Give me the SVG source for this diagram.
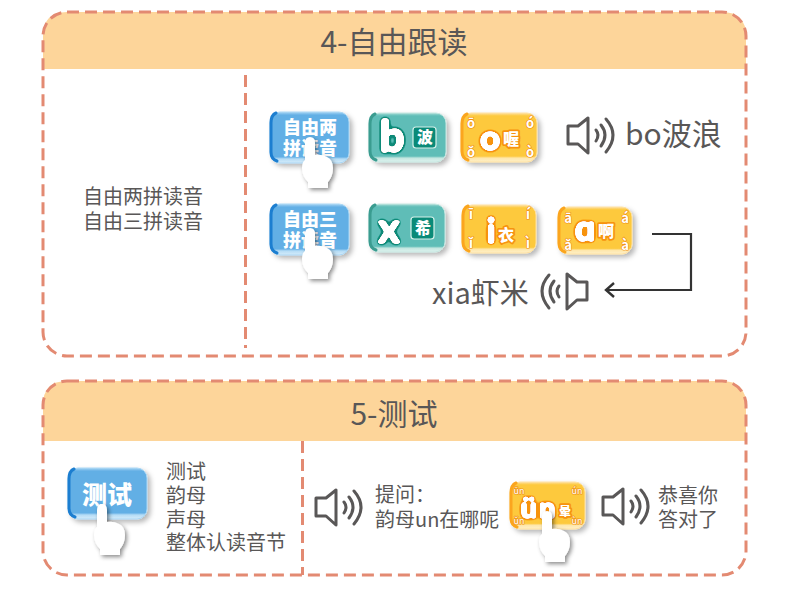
<svg xmlns="http://www.w3.org/2000/svg" width="790" height="592" viewBox="0 0 790 592">
<style>
text{font-family:"Noto Sans CJK SC","Noto Sans",sans-serif;fill:#595757}
.title{font-size:30px;text-anchor:middle}
.t20{font-size:20px}
.mid{text-anchor:middle}
.big{font-size:30px}
.frame{fill:none;stroke:#e38a72;stroke-width:3;stroke-dasharray:12 6}
.div{fill:none;stroke:#e38a72;stroke-width:3;stroke-dasharray:12 6}
.head{fill:#fdd59a}
.spk{fill:none;stroke:#595757;stroke-width:3;stroke-linejoin:round;stroke-linecap:round}
.blue{fill:url(#gb);stroke:#a9d6f4;stroke-width:1;filter:url(#sh)}
.blueedge{fill:none;stroke:#1c7ed0;stroke-width:3;stroke-linecap:round}
.green{fill:url(#gg);stroke:#c4e6e0;stroke-width:1;filter:url(#sh)}
.greenedge{fill:none;stroke:#3a9c90;stroke-width:3;stroke-linecap:round}
.yellow{fill:url(#gy);stroke:#fee0a0;stroke-width:1;filter:url(#sh)}
.yellowedge{fill:none;stroke:#fba51e;stroke-width:3;stroke-linecap:round}
text.bt{fill:#fff;font-weight:900;font-size:18px;text-anchor:middle}
text.gl{fill:#fff;font-family:Lato,"Noto Sans",sans-serif;font-weight:900;text-anchor:middle;filter:url(#tl)}
text.yl{fill:#fff;font-family:Lato,"Noto Sans",sans-serif;font-weight:900;text-anchor:middle;filter:url(#ol)}
text.yc{fill:#fff;stroke:#f7930e;stroke-width:3.5px;paint-order:stroke;font-weight:900;font-size:16px;text-anchor:middle;stroke-linejoin:round}
text.mk{fill:#fff;stroke:#f08c10;stroke-width:1.2px;paint-order:stroke;font-size:13px;font-weight:700;text-anchor:middle}
text.gc{fill:#fff;stroke:#0a8a78;stroke-width:2px;paint-order:stroke;font-weight:900;font-size:16px;text-anchor:middle}
.gbox{fill:#0a8a78;stroke:#d5f0ea;stroke-width:1.2}
</style>
<defs>
<linearGradient id="gb" x1="0" y1="0" x2="0" y2="1"><stop offset="0" stop-color="#a9d6f4"/><stop offset=".06" stop-color="#62afe5"/><stop offset=".88" stop-color="#62afe5"/><stop offset=".92" stop-color="#b5dcf6"/><stop offset="1" stop-color="#d5ecfa"/></linearGradient>
<linearGradient id="gg" x1="0" y1="0" x2="0" y2="1"><stop offset="0" stop-color="#a8dcd6"/><stop offset=".06" stop-color="#5fbdb7"/><stop offset=".88" stop-color="#5fbdb7"/><stop offset=".92" stop-color="#c4e6e0"/><stop offset="1" stop-color="#dff3ef"/></linearGradient>
<linearGradient id="gy" x1="0" y1="0" x2="0" y2="1"><stop offset="0" stop-color="#fee0a0"/><stop offset=".06" stop-color="#fdc93d"/><stop offset=".88" stop-color="#fdc93d"/><stop offset=".92" stop-color="#fee7ac"/><stop offset="1" stop-color="#fff0c8"/></linearGradient>
<filter id="sh" x="-20%" y="-20%" width="150%" height="150%"><feDropShadow dx="3" dy="3" stdDeviation="2.5" flood-color="#000" flood-opacity=".28"/></filter>
<filter id="hs" x="-30%" y="-20%" width="170%" height="150%"><feDropShadow dx="2" dy="2" stdDeviation="2" flood-color="#000" flood-opacity=".45"/></filter>
<filter id="tl" x="-30%" y="-30%" width="160%" height="160%"><feGaussianBlur in="SourceAlpha" stdDeviation="2.4"/><feComponentTransfer result="a"><feFuncA type="linear" slope="10" intercept="-.9"/></feComponentTransfer><feFlood flood-color="#0a8a78"/><feComposite in2="a" operator="in" result="o"/><feGaussianBlur in="SourceAlpha" stdDeviation="1"/><feComponentTransfer result="b"><feFuncA type="linear" slope="8" intercept="-1.6"/></feComponentTransfer><feFlood flood-color="#fff"/><feComposite in2="b" operator="in" result="w"/><feMerge><feMergeNode in="o"/><feMergeNode in="w"/></feMerge></filter>
<filter id="ol" x="-30%" y="-30%" width="160%" height="160%"><feGaussianBlur in="SourceAlpha" stdDeviation="2.4"/><feComponentTransfer result="a"><feFuncA type="linear" slope="10" intercept="-.9"/></feComponentTransfer><feFlood flood-color="#f7930e"/><feComposite in2="a" operator="in" result="o"/><feGaussianBlur in="SourceAlpha" stdDeviation="1"/><feComponentTransfer result="b"><feFuncA type="linear" slope="8" intercept="-1.6"/></feComponentTransfer><feFlood flood-color="#fff"/><feComposite in2="b" operator="in" result="w"/><feMerge><feMergeNode in="o"/><feMergeNode in="w"/></feMerge></filter>
<marker id="arr" markerUnits="userSpaceOnUse" markerWidth="14" markerHeight="18" refX="12" refY="9" orient="auto"><path d="M4,2 L12,9 L4,16" fill="none" stroke="#333" stroke-width="2.4"/></marker>
<symbol id="hand" overflow="visible" viewBox="0 0 1 1" width="1" height="1">
<path d="M-5,5 Q-5,-1 0,-1 Q5,-1 5,5 L5,17 Q12,16 17,19 Q23,22 23,30 Q23,38 18,44 L18,50 L-2,50 L-2,44 Q-8,38 -8,30 Q-8,24 -5,22 Z" fill="#fff" filter="url(#hs)"/>
</symbol>
<symbol id="speaker" overflow="visible" viewBox="0 0 1 1" width="1" height="1">
<path class="spk" d="M0,-9 H10 L20,-17 V18 L10,9 H0 Z"/>
<path class="spk" d="M28,-5 Q32,0 28,6"/>
<path class="spk" d="M33,-10 Q41,0 33,11"/>
<path class="spk" d="M38,-16 Q52,0 38,17"/>
</symbol>
</defs>

<g id="panel-4">
<path class="head" d="M43,69 V36 Q43,12 67,12 H722 Q746,12 746,36 V69 Z"/>
<rect class="frame" x="43" y="12" width="703" height="344" rx="24"/>
<path class="div" d="M245.500,75 V348"/>
<text class="title" x="394" y="53">4-自由跟读</text>
</g>
<g id="label-4"><text class="t20 mid" x="143" y="204">自由两拼读音</text><text class="t20 mid" x="143" y="229">自由三拼读音</text></g>

<g id="btn-two">
<rect class="blue" x="270" y="112" width="79" height="51" rx="10"/><path class="blueedge" d="M276,113 Q271,115 271,123 V152 Q271,159 277,161"/>
<text class="bt" x="310" y="134">自由两</text><text class="bt" x="310" y="155">拼读音</text>
<use href="#hand" x="310" y="138"/>
</g>
<g id="chip-b">
<rect class="green" x="369" y="113" width="77" height="49" rx="10"/><path class="greenedge" d="M375,114 Q370,116 370,124 V151 Q370,158 376,160"/>
<text class="gl" x="392" y="152" font-size="44">b</text>
<rect class="gbox" x="413" y="127" width="23" height="21" rx="3"/><text class="gc" x="425" y="143">波</text>
</g>
<g id="chip-o">
<rect class="yellow" x="461" y="113" width="76" height="49" rx="10"/><path class="yellowedge" d="M467,114 Q462,116 462,124 V151 Q462,158 468,160"/>
<text class="yl" x="490" y="150" font-size="35">o</text><text class="yc" x="511" y="145">喔</text>
<text class="mk" x="471" y="128">ō</text><text class="mk" x="530" y="128">ó</text><text class="mk" x="471" y="157">ǒ</text><text class="mk" x="530" y="157">ò</text>
</g>
<g id="sound-bo">
<use href="#speaker" x="568" y="135"/>
<text class="big" x="625" y="145">bo波浪</text>
</g>

<g id="btn-three">
<rect class="blue" x="270" y="204" width="79" height="51" rx="10"/><path class="blueedge" d="M276,205 Q271,207 271,215 V244 Q271,251 277,253"/>
<text class="bt" x="310" y="226">自由三</text><text class="bt" x="310" y="247">拼读音</text>
<use href="#hand" x="310" y="229"/>
</g>
<g id="chip-x">
<rect class="green" x="369" y="204" width="76" height="48" rx="10"/><path class="greenedge" d="M375,205 Q370,207 370,215 V241 Q370,248 376,250"/>
<text class="gl" x="389" y="243" font-size="42">x</text>
<rect class="gbox" x="411" y="217" width="23" height="22" rx="3"/><text class="gc" x="423" y="234">希</text>
</g>
<g id="chip-i">
<rect class="yellow" x="462" y="205" width="74" height="48" rx="10"/><path class="yellowedge" d="M468,206 Q463,208 463,216 V242 Q463,249 469,251"/>
<text class="yl" x="491" y="243" font-size="35">i</text><text class="yc" x="506" y="241">衣</text>
<text class="mk" x="471" y="219">ī</text><text class="mk" x="528" y="219">í</text><text class="mk" x="471" y="248">ǐ</text><text class="mk" x="528" y="248">ì</text>
</g>
<g id="chip-a">
<rect class="yellow" x="558" y="207" width="74" height="47" rx="10"/><path class="yellowedge" d="M564,208 Q559,210 559,218 V243 Q559,250 565,252"/>
<text class="yl" x="585" y="241" font-size="36">ɑ</text><text class="yc" x="606" y="237">啊</text>
<text class="mk" x="568" y="223">ā</text><text class="mk" x="625" y="223">á</text><text class="mk" x="568" y="250">ǎ</text><text class="mk" x="625" y="250">à</text>
</g>
<g id="sound-xia">
<text x="432" y="304" style="font-size:29px">xia虾米</text>
<use href="#speaker" transform="translate(587,291) scale(-1,1)"/>
</g>

<g id="connectors">
<path d="M652,234 H691 V290 H606" fill="none" stroke="#333" stroke-width="2.200" marker-end="url(#arr)"/>
</g>

<g id="panel-5">
<path class="head" d="M43,441 V405 Q43,381 67,381 H722 Q746,381 746,405 V441 Z"/>
<rect class="frame" x="43" y="381" width="703" height="194" rx="24"/>
<path class="div" d="M302.500,441 V575"/>
<text class="title" x="394" y="425">5-测试</text>
</g>
<g id="btn-test">
<rect class="blue" x="68" y="468" width="79" height="51" rx="10"/><path class="blueedge" d="M74,469 Q69,471 69,479 V508 Q69,515 75,517"/>
<text class="bt" x="107" y="504" style="font-size:25px">测试</text>
<use href="#hand" x="102" y="505"/>
</g>
<g id="list-5">
<text class="t20" x="166" y="479">测试</text><text class="t20" x="166" y="503">韵母</text><text class="t20" x="166" y="527">声母</text><text class="t20" x="166" y="550">整体认读音节</text>
</g>
<g id="prompt">
<use href="#speaker" x="316" y="507"/>
<text class="t20" x="375" y="502">提问：</text>
<text class="t20" x="375" y="527">韵母un在哪呢</text>
</g>
<g id="chip-un">
<rect class="yellow" x="510" y="482" width="75" height="47" rx="10"/><path class="yellowedge" d="M516,483 Q511,485 511,493 V518 Q511,525 517,527"/>
<text class="yl" x="539" y="518" font-size="29" letter-spacing="2">ün</text><text class="yc" x="565" y="516" style="font-size:12px">晕</text>
<text class="mk" x="519" y="494" style="font-size:9px;font-weight:400">ūn</text><text class="mk" x="577" y="494" style="font-size:9px;font-weight:400">ún</text><text class="mk" x="519" y="524" style="font-size:9px;font-weight:400">ǔn</text><text class="mk" x="577" y="524" style="font-size:9px;font-weight:400">ùn</text>
<use href="#hand" x="547" y="512"/>
</g>
<g id="reply">
<use href="#speaker" x="603" y="506"/>
<text class="t20" x="658" y="503">恭喜你</text>
<text class="t20" x="658" y="527">答对了</text>
</g>
</svg>
